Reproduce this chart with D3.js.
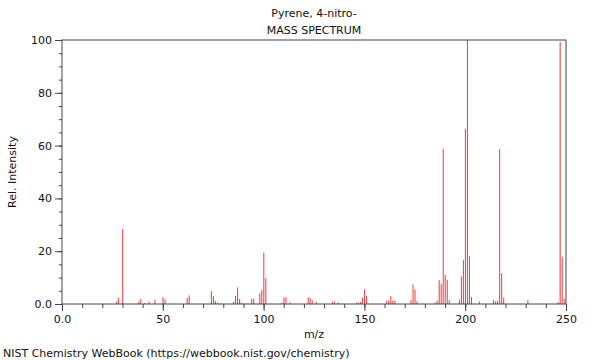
<!DOCTYPE html>
<html>
<head>
<meta charset="utf-8">
<script src="https://cdn.jsdelivr.net/npm/d3@7"></script>
<style>
  body { margin: 0; background: #fff; }
  svg { display: block; font-family: "DejaVu Sans", sans-serif; }
</style>
</head>
<body>
<svg id="chart" width="600" height="360"></svg>
<script>
// peaks
const mz = [27, 28, 30, 38, 39, 41, 43, 46, 50, 51, 62, 63, 74, 75, 76, 77, 85, 86, 87, 88, 89,
  94, 95, 98, 99, 100, 101, 109, 110, 111, 113, 122, 123, 124, 126, 134, 135, 137,
  146, 147, 148, 149, 150, 151, 161, 162, 163, 164, 165, 173, 174, 175, 176,
  185, 186, 187, 188, 189, 190, 191, 192, 197, 198, 199, 200, 201, 202, 203, 207,
  214, 215, 216, 217, 218, 219, 231, 246, 247, 248, 249];
const intensity = [1.0, 2.4, 28.4, 0.9, 1.9, 0.4, 0.9, 1.6, 2.6, 1.8, 2.3, 3.3, 4.9, 3.0, 1.1, 0.5, 0.8, 3.1, 6.3, 1.9, 0.5,
  2.0, 2.0, 4.0, 5.3, 19.4, 9.8, 0.5, 2.5, 2.5, 0.6, 2.6, 2.2, 1.4, 0.8, 0.9, 1.0, 0.5,
  0.5, 0.5, 0.8, 2.4, 5.6, 3.0, 1.3, 1.3, 3.0, 1.3, 1.3, 1.5, 7.4, 5.5, 1.0,
  0.5, 1.3, 9.0, 7.7, 58.8, 11.0, 9.1, 1.5, 1.7, 10.5, 16.7, 66.4, 100, 18.1, 2.6, 0.8,
  1.5, 1.0, 1.3, 58.7, 11.7, 2.4, 1.5, 0.7, 99.2, 17.8, 2.0];

const xMajor = [0, 50, 100, 150, 200, 250];
const xMinor = d3.range(0, 251, 10);
const yMajor = [0, 20, 40, 60, 80, 100];
const yMinor = d3.range(0, 101, 5);

const plotL = 62, plotR = 566, plotT = 40, plotB = 304;
const axisColor = '#444';

const svg = d3.select('#chart');

const x = d3.scaleLinear().domain([0, 250]).range([plotL, plotR]);
const y = d3.scaleLinear().domain([0, 100]).range([plotB, plotT]);

const fmt = (d) => d === 0 ? '0.0' : String(d);

// bars
svg.append('g').selectAll('rect')
  .data(mz.map((m, i) => ({ m, v: intensity[i] })))
  .enter().append('rect')
  .attr('x', (d) => x(d.m) - 0.3)
  .attr('width', 1)
  .attr('y', (d) => y(d.v))
  .attr('height', (d) => y(0) - y(d.v))
  .attr('fill', '#ee3a3a');

// minor ticks
const gx = svg.append('g').attr('transform', `translate(0,${plotB})`);
gx.call(d3.axisBottom(x).tickValues(xMinor).tickSize(4).tickFormat(''));
gx.call((g) => g.select('.domain').remove());
const gxM = svg.append('g').attr('transform', `translate(0,${plotB})`)
  .call(d3.axisBottom(x).tickValues(xMajor).tickSize(7).tickPadding(4).tickFormat(fmt));
gxM.select('.domain').remove();

const gy = svg.append('g').attr('transform', `translate(${plotL},0)`);
gy.call(d3.axisLeft(y).tickValues(yMinor).tickSize(3).tickFormat(''));
gy.call((g) => g.select('.domain').remove());
const gyM = svg.append('g').attr('transform', `translate(${plotL},0)`)
  .call(d3.axisLeft(y).tickValues(yMajor).tickSize(7).tickPadding(3).tickFormat(fmt));
gyM.select('.domain').remove();

svg.selectAll('.tick line').attr('stroke', axisColor);
svg.selectAll('.tick text').attr('font-size', 11).attr('font-family', '"DejaVu Sans", sans-serif').attr('fill', '#111');

// frame
svg.append('rect')
  .attr('x', plotL).attr('y', plotT)
  .attr('width', plotR - plotL).attr('height', plotB - plotT)
  .attr('fill', 'none').attr('stroke', axisColor).attr('stroke-width', 1);

// texts
const cx = (plotL + plotR) / 2;
svg.append('text').attr('x', cx).attr('y', 17).attr('text-anchor', 'middle')
  .attr('font-size', 11).attr('fill', '#111').text('Pyrene, 4-nitro-');
svg.append('text').attr('x', cx).attr('y', 34).attr('text-anchor', 'middle')
  .attr('font-size', 11).attr('fill', '#111').text('MASS SPECTRUM');
svg.append('text').attr('x', cx).attr('y', 338).attr('text-anchor', 'middle')
  .attr('font-size', 11).attr('fill', '#111').text('m/z');
svg.append('text').attr('transform', `translate(16,${(plotT + plotB) / 2}) rotate(-90)`)
  .attr('text-anchor', 'middle').attr('font-size', 11).attr('fill', '#111').text('Rel. Intensity');
svg.append('text').attr('x', 3).attr('y', 357)
  .attr('font-size', 11).attr('fill', '#111').text('NIST Chemistry WebBook (https://webbook.nist.gov/chemistry)');
</script>
</body>
</html>
